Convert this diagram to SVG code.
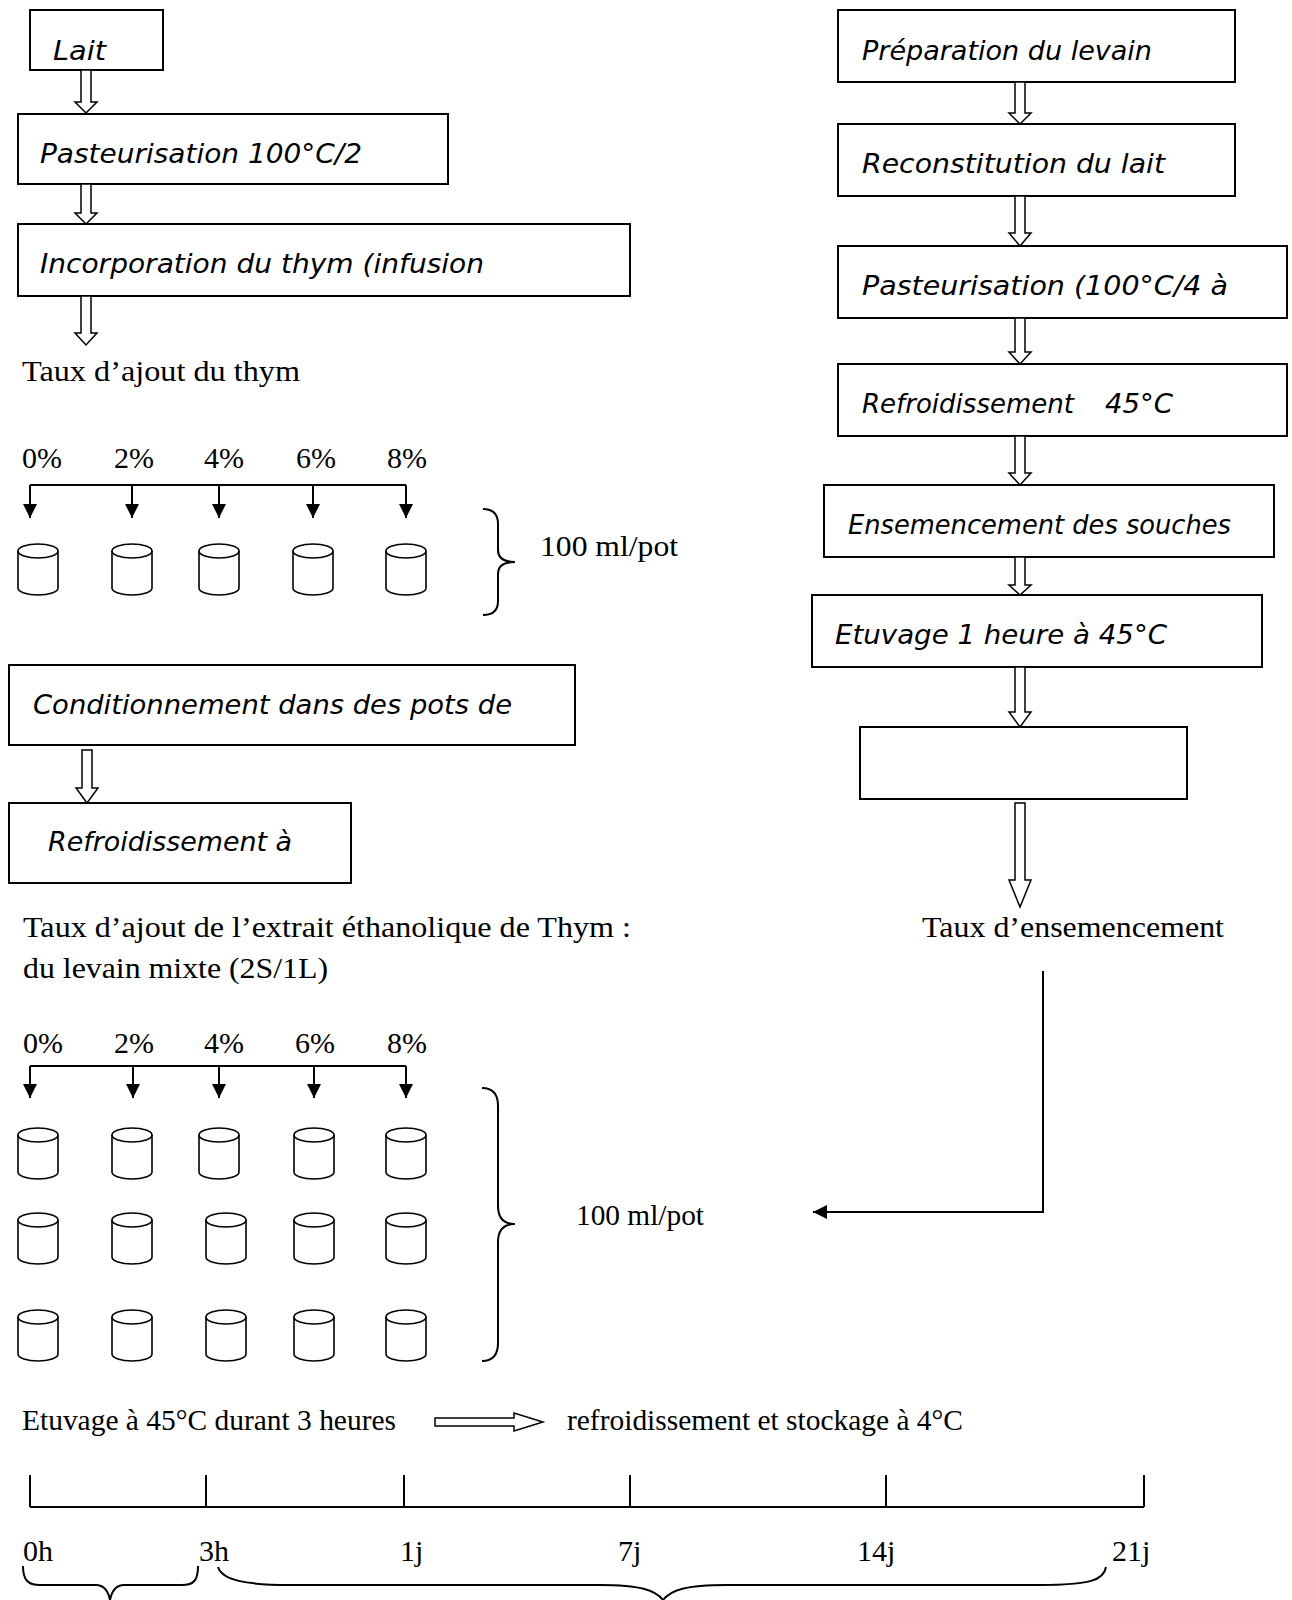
<svg xmlns="http://www.w3.org/2000/svg" width="1292" height="1600" viewBox="0 0 1292 1600">
<style>
.box{fill:#fff;stroke:#000;stroke-width:2}
.hw{font-family:"DejaVu Sans","Noto Sans",sans-serif;font-style:italic;font-size:27px;fill:#000}
.tm{font-family:"Liberation Serif","Times New Roman",serif;font-size:30px;fill:#000}
.ln{stroke:#000;stroke-width:2;fill:none}
.ha{fill:#fff;stroke:#000;stroke-width:1.5;stroke-linejoin:miter}
.pot{fill:#fff;stroke:#000;stroke-width:1.6}
</style>
<defs>
<marker id="ah" viewBox="0 0 14 14" refX="14" refY="7" markerWidth="14" markerHeight="14" markerUnits="userSpaceOnUse" orient="auto">
<path d="M0,0 L14,7 L0,14 z" fill="#000"/>
</marker>
<g id="pot" class="pot"><path d="M-20 7 V44 A20 7 0 0 0 20 44 V7"/><ellipse cx="0" cy="7" rx="20" ry="7"/></g>
</defs>
<rect width="1292" height="1600" fill="#fff"/>

<!-- Left column nodes -->
<g id="n-lait"><rect class="box" x="30" y="10" width="133" height="60"/><text class="hw" x="53" y="60" textLength="53" lengthAdjust="spacingAndGlyphs">Lait</text></g>
<g id="n-past1"><rect class="box" x="18" y="114" width="430" height="70"/><text class="hw" x="40" y="163" textLength="322" lengthAdjust="spacingAndGlyphs">Pasteurisation 100°C/2</text></g>
<g id="n-incorp"><rect class="box" x="18" y="224" width="612" height="72"/><text class="hw" x="40" y="273" textLength="444" lengthAdjust="spacingAndGlyphs">Incorporation du thym (infusion</text></g>
<g id="n-taux1"><text class="tm" x="22" y="381" textLength="278" lengthAdjust="spacingAndGlyphs">Taux d’ajout du thym</text></g>
<g id="n-pct1">
<text class="tm" x="22" y="468" font-size="29">0%</text>
<text class="tm" x="114" y="468" font-size="29">2%</text>
<text class="tm" x="204" y="468" font-size="29">4%</text>
<text class="tm" x="296" y="468" font-size="29">6%</text>
<text class="tm" x="387" y="468" font-size="29">8%</text>
</g>
<g id="n-pots1">
<use href="#pot" x="38" y="544"/><use href="#pot" x="132" y="544"/><use href="#pot" x="219" y="544"/><use href="#pot" x="313" y="544"/><use href="#pot" x="406" y="544"/>
<path class="ln" stroke-width="1.6" d="M483 509 C493 509 498 514 498 524 L498 550 C498 558 503 562 515 562 C503 562 498 566 498 574 L498 601 C498 611 493 615 483 615"/>
<text class="tm" x="540" y="556" textLength="138" lengthAdjust="spacingAndGlyphs">100 ml/pot</text>
</g>
<g id="n-cond"><rect class="box" x="9" y="665" width="566" height="80"/><text class="hw" x="33" y="714" textLength="479" lengthAdjust="spacingAndGlyphs">Conditionnement dans des pots de</text></g>
<g id="n-refr1"><rect class="box" x="9" y="803" width="342" height="80"/><text class="hw" x="48" y="851" textLength="244" lengthAdjust="spacingAndGlyphs">Refroidissement à</text></g>
<g id="n-taux2">
<text class="tm" x="23" y="937" textLength="608" lengthAdjust="spacingAndGlyphs">Taux d’ajout de l’extrait éthanolique de Thym :</text>
<text class="tm" x="23" y="978" textLength="305" lengthAdjust="spacingAndGlyphs">du levain mixte (2S/1L)</text>
</g>
<g id="n-pct2">
<text class="tm" x="23" y="1053" font-size="29">0%</text>
<text class="tm" x="114" y="1053" font-size="29">2%</text>
<text class="tm" x="204" y="1053" font-size="29">4%</text>
<text class="tm" x="295" y="1053" font-size="29">6%</text>
<text class="tm" x="387" y="1053" font-size="29">8%</text>
</g>
<g id="n-pots2">
<use href="#pot" x="38" y="1128"/><use href="#pot" x="132" y="1128"/><use href="#pot" x="219" y="1128"/><use href="#pot" x="314" y="1128"/><use href="#pot" x="406" y="1128"/>
<use href="#pot" x="38" y="1213"/><use href="#pot" x="132" y="1213"/><use href="#pot" x="226" y="1213"/><use href="#pot" x="314" y="1213"/><use href="#pot" x="406" y="1213"/>
<use href="#pot" x="38" y="1310"/><use href="#pot" x="132" y="1310"/><use href="#pot" x="226" y="1310"/><use href="#pot" x="314" y="1310"/><use href="#pot" x="406" y="1310"/>
<path class="ln" stroke-width="1.6" d="M482 1088 C492 1088 498 1094 498 1106 L498 1206 C498 1218 503 1224 515 1224 C503 1224 498 1230 498 1242 L498 1343 C498 1355 492 1361 482 1361"/>
<text class="tm" x="576" y="1225" textLength="128" lengthAdjust="spacingAndGlyphs">100 ml/pot</text>
</g>

<!-- Right column nodes -->
<g id="n-prep"><rect class="box" x="838" y="10" width="397" height="72"/><text class="hw" x="862" y="60" textLength="290" lengthAdjust="spacingAndGlyphs">Préparation du levain</text></g>
<g id="n-recon"><rect class="box" x="838" y="124" width="397" height="72"/><text class="hw" x="862" y="173" textLength="303" lengthAdjust="spacingAndGlyphs">Reconstitution du lait</text></g>
<g id="n-past2"><rect class="box" x="838" y="246" width="449" height="72"/><text class="hw" x="862" y="295" textLength="366" lengthAdjust="spacingAndGlyphs">Pasteurisation (100°C/4 à</text></g>
<g id="n-refr2"><rect class="box" x="838" y="364" width="449" height="72"/><text class="hw" x="862" y="413" textLength="212" lengthAdjust="spacingAndGlyphs">Refroidissement</text><text class="hw" x="1105" y="413" textLength="68" lengthAdjust="spacingAndGlyphs">45°C</text></g>
<g id="n-ensem"><rect class="box" x="824" y="485" width="450" height="72"/><text class="hw" x="848" y="534" textLength="383" lengthAdjust="spacingAndGlyphs">Ensemencement des souches</text></g>
<g id="n-etuv1"><rect class="box" x="812" y="595" width="450" height="72"/><text class="hw" x="835" y="644" textLength="332" lengthAdjust="spacingAndGlyphs">Etuvage 1 heure à 45°C</text></g>
<g id="n-empty"><rect class="box" x="860" y="727" width="327" height="72"/></g>
<g id="n-taux3"><text class="tm" x="922" y="937" textLength="302" lengthAdjust="spacingAndGlyphs">Taux d’ensemencement</text></g>

<!-- Bottom -->
<g id="n-etuv2">
<text class="tm" x="22" y="1430" font-size="28" textLength="374" lengthAdjust="spacingAndGlyphs">Etuvage à 45°C durant 3 heures</text>
<text class="tm" x="567" y="1430" font-size="28" textLength="396" lengthAdjust="spacingAndGlyphs">refroidissement et stockage à 4°C</text>
</g>
<g id="n-timeline">
<path class="ln" stroke-width="2.5" d="M30 1507 H1144"/>
<path class="ln" stroke-width="1.6" d="M30 1475 V1507 M206 1475 V1507 M404 1475 V1507 M630 1475 V1507 M886 1475 V1507 M1144 1475 V1507"/>
<text class="tm" x="23" y="1561" font-size="28">0h</text>
<text class="tm" x="199" y="1561" font-size="28">3h</text>
<text class="tm" x="400" y="1561" font-size="28">1j</text>
<text class="tm" x="618" y="1561" font-size="28">7j</text>
<text class="tm" x="857" y="1561" font-size="28">14j</text>
<text class="tm" x="1112" y="1561" font-size="28">21j</text>
<path class="ln" stroke-width="1.6" d="M23 1566 C23 1580 28 1585 40 1585 L96 1585 C104 1585 108 1590 110 1600 C112 1590 116 1585 124 1585 L182 1585 C194 1585 198 1580 198 1566"/>
<path class="ln" stroke-width="1.6" d="M218 1567 C222 1580 245 1585 290 1585 L600 1585 C640 1585 655 1590 663 1600 C671 1590 686 1585 726 1585 L1040 1585 C1090 1585 1104 1580 1106 1567"/>
</g>

<!-- Connectors -->
<g id="connectors">
<polygon class="ha" points="81,70 81,102 75,102 86,113 97,102 91,102 91,70"/>
<polygon class="ha" points="81,184 81,213 75,213 86,224 97,213 91,213 91,184"/>
<polygon class="ha" points="81,296 81,333 75,333 86,345 97,333 91,333 91,296"/>
<polygon class="ha" points="82,750 82,788 76,788 87,803 98,788 92,788 92,750"/>
<polygon class="ha" points="1015,82 1015,113 1009,113 1020,124 1031,113 1025,113 1025,82"/>
<polygon class="ha" points="1015,196 1015,233 1009,233 1020,246 1031,233 1025,233 1025,196"/>
<polygon class="ha" points="1015,318 1015,352 1009,352 1020,364 1031,352 1025,352 1025,318"/>
<polygon class="ha" points="1015,436 1015,473 1009,473 1020,485 1031,473 1025,473 1025,436"/>
<polygon class="ha" points="1015,557 1015,585 1009,585 1020,595 1031,585 1025,585 1025,557"/>
<polygon class="ha" points="1015,667 1015,712 1009,712 1020,727 1031,712 1025,712 1025,667"/>
<polygon class="ha" points="1015,803 1015,880 1009,880 1020,907 1031,880 1025,880 1025,803"/>
<polygon class="ha" points="435,1418 514,1418 514,1413 543,1422 514,1431 514,1426 435,1426"/>
<path class="ln" d="M30 485 H406"/>
<path class="ln" marker-end="url(#ah)" d="M30 485 V518"/>
<path class="ln" marker-end="url(#ah)" d="M132 485 V518"/>
<path class="ln" marker-end="url(#ah)" d="M219 485 V518"/>
<path class="ln" marker-end="url(#ah)" d="M313 485 V518"/>
<path class="ln" marker-end="url(#ah)" d="M406 485 V518"/>
<path class="ln" d="M30 1066 H406"/>
<path class="ln" marker-end="url(#ah)" d="M30 1066 V1098"/>
<path class="ln" marker-end="url(#ah)" d="M133 1066 V1098"/>
<path class="ln" marker-end="url(#ah)" d="M219 1066 V1098"/>
<path class="ln" marker-end="url(#ah)" d="M314 1066 V1098"/>
<path class="ln" marker-end="url(#ah)" d="M406 1066 V1098"/>
<path class="ln" marker-end="url(#ah)" d="M1043 971 V1212 H813"/>
</g>
</svg>
